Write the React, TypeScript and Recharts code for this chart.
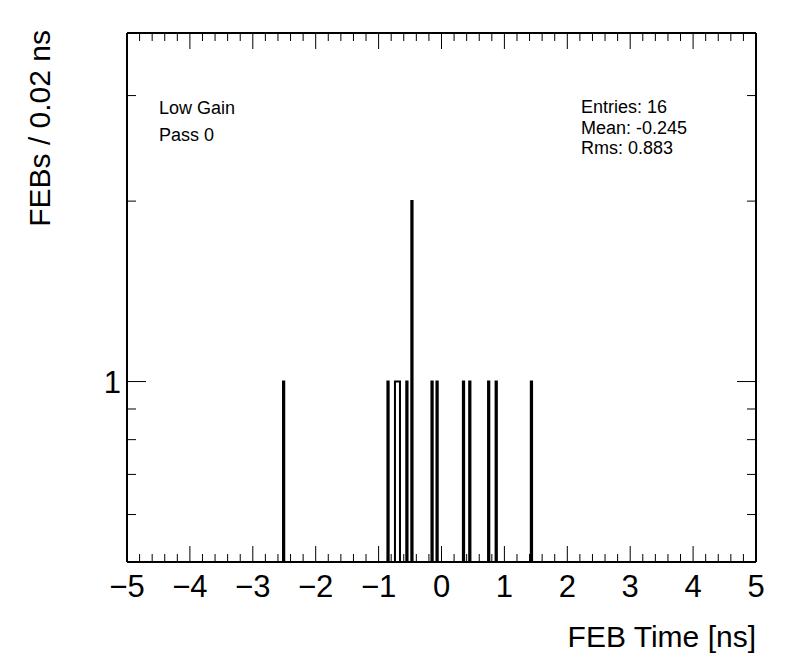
import React from "react";
import { LineChart, Line, XAxis, YAxis } from "recharts";

// FEB time values (bin centres, ns) and their counts
const febTimes = [-2.51, -0.85, -0.73, -0.71, -0.69, -0.67, -0.55, -0.47, -0.15, -0.07, 0.35, 0.45, 0.75, 0.87, 1.43];
const febCounts = [1, 1, 1, 1, 1, 1, 1, 2, 1, 1, 1, 1, 1, 1, 1];

const xMin = -5;
const xMax = 5;
const binWidth = 0.02;
const yMin = 0.5;
const yMax = 3.815;

const yTicks = [0.6, 0.7, 0.8, 0.9, 1, 2, 3];
const yLabelled = [1];

const nBins = Math.round((xMax - xMin) / binWidth);

function buildHist() {
  const counts = new Array(nBins).fill(0);
  febTimes.forEach((t, i) => {
    const idx = Math.floor((t - xMin) / binWidth);
    counts[idx] += febCounts[i];
  });
  const rows = counts.map((c, i) => ({
    x: Number((xMin + i * binWidth).toFixed(2)),
    y: c > 0 ? c : yMin,
  }));
  rows.push({ x: xMax, y: yMin });
  return rows;
}

const allXTicks: number[] = [];
for (let i = 0; i <= 50; i++) allXTicks.push(Number((xMin + i * 0.2).toFixed(1)));

const FONT = "'Liberation Sans', Arial, Helvetica, sans-serif";

function isMajor(v: number) {
  return Math.abs(v - Math.round(v)) < 1e-6;
}

function BottomTick(props: any) {
  const { x, y, payload } = props;
  const v = payload.value as number;
  const major = isMajor(v);
  const label = v < 0 ? "\u2212" + Math.abs(v) : String(v);
  return (
    <g>
      <line x1={x} x2={x} y1={y} y2={y - (major ? 16 : 8)} stroke="#000" strokeWidth={1} />
      {major && (
        <text x={x} y={y + 35} textAnchor="middle" fontFamily={FONT} fontSize={31} fill="#000">
          {label}
        </text>
      )}
    </g>
  );
}

function TopTick(props: any) {
  const { x, y, payload } = props;
  const major = isMajor(payload.value);
  return <line x1={x} x2={x} y1={y} y2={y + (major ? 16 : 8)} stroke="#000" strokeWidth={1} />;
}

function LeftTick(props: any) {
  const { x, y, payload } = props;
  const major = yLabelled.includes(payload.value);
  return (
    <g>
      <line x1={x} x2={x + (major ? 19 : 9)} y1={y} y2={y} stroke="#000" strokeWidth={1} />
      {major && (
        <text x={x - 6} y={y + 11} textAnchor="end" fontFamily={FONT} fontSize={31} fill="#000">
          {payload.value}
        </text>
      )}
    </g>
  );
}

function RightTick(props: any) {
  const { x, y, payload } = props;
  const major = yLabelled.includes(payload.value);
  return <line x1={x} x2={x - (major ? 19 : 9)} y1={y} y2={y} stroke="#000" strokeWidth={1} />;
}

export default function App() {
  const data = buildHist();
  return (
    <div style={{ position: "absolute", left: 0, top: 0, width: 796, height: 672, background: "#fff" }}>
      <LineChart width={796} height={672} data={data} margin={{ top: 32, right: 39, bottom: 109, left: 126 }}>
        <XAxis
          xAxisId="b"
          dataKey="x"
          type="number"
          domain={[xMin, xMax]}
          allowDataOverflow
          ticks={allXTicks}
          interval={0}
          height={1}
          tickSize={0}
          tickMargin={0}
          tickLine={false}
          axisLine={{ stroke: "#000", strokeWidth: 2 }}
          tick={BottomTick}
        />
        <XAxis
          xAxisId="t"
          orientation="top"
          dataKey="x"
          type="number"
          domain={[xMin, xMax]}
          allowDataOverflow
          ticks={allXTicks}
          interval={0}
          height={1}
          tickSize={0}
          tickMargin={0}
          tickLine={false}
          axisLine={{ stroke: "#000", strokeWidth: 2 }}
          tick={TopTick}
        />
        <YAxis
          yAxisId="l"
          scale="log"
          type="number"
          domain={[yMin, yMax]}
          allowDataOverflow
          ticks={yTicks}
          interval={0}
          width={1}
          tickSize={0}
          tickMargin={0}
          tickLine={false}
          axisLine={{ stroke: "#000", strokeWidth: 2 }}
          tick={LeftTick}
        />
        <YAxis
          yAxisId="r"
          orientation="right"
          scale="log"
          type="number"
          domain={[yMin, yMax]}
          allowDataOverflow
          ticks={yTicks}
          interval={0}
          width={1}
          tickSize={0}
          tickMargin={0}
          tickLine={false}
          axisLine={{ stroke: "#000", strokeWidth: 2 }}
          tick={RightTick}
        />
        <Line
          xAxisId="b"
          yAxisId="l"
          dataKey="y"
          type="stepAfter"
          stroke="#000"
          strokeWidth={2}
          dot={false}
          activeDot={false}
          isAnimationActive={false}
        />
      </LineChart>
      <svg width={796} height={672} style={{ position: "absolute", left: 0, top: 0, pointerEvents: "none" }}>
        <g fontFamily={FONT} fill="#000">
          <text x={159} y={114} fontSize={18}>Low Gain</text>
          <text x={159} y={141} fontSize={18}>Pass 0</text>
          <text x={581} y={113} fontSize={18}>Entries: 16</text>
          <text x={581} y={134} fontSize={18}>Mean: -0.245</text>
          <text x={581} y={154} fontSize={18}>Rms: 0.883</text>
          <text x={756} y={647} fontSize={30} textAnchor="end">FEB Time [ns]</text>
          <text x={50} y={30} fontSize={30} textAnchor="end" transform="rotate(-90 50 30)">FEBs / 0.02 ns</text>
        </g>
      </svg>
    </div>
  );
}
